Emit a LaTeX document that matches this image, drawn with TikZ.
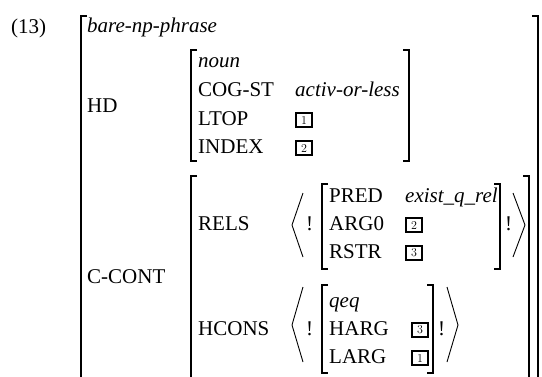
\documentclass[tikz,border=0pt]{standalone}
\usepackage{fontspec}
\setmainfont{Liberation Serif}
\begin{document}
\begin{tikzpicture}[x=1pt,y=-1pt,
  lbl/.style={anchor=base west, inner sep=0pt, font=\fontsize{21}{24}\selectfont},
  typ/.style={anchor=base west, inner sep=0pt, font=\fontsize{21}{24}\selectfont\itshape},
  tag/.style={draw, line width=1.9pt, anchor=south west, minimum width=16pt,
    minimum height=14pt, inner sep=0pt, font=\fontfamily{lmr}\fontsize{12}{14}\selectfont},
  brk/.style={line width=1.3pt},
  ang/.style={line width=0.9pt}]
\useasboundingbox (0,0) rectangle (542,376);

% example number
\node[lbl] (num) at (11,33) {(13)};

% outer matrix
\draw[brk] (87,16) -- (81,16) -- (81,378);
\draw[brk] (532,16) -- (538,16) -- (538,378);
\node[typ] (type) at (87,32) {bare-np-phrase};

% HD feature
\node[lbl] (hd) at (87,112) {HD};
\draw[brk] (197,50) -- (191,50) -- (191,161) -- (197,161);
\draw[brk] (403,50) -- (409,50) -- (409,161) -- (403,161);
\node[typ] (noun) at (198,67) {noun};
\node[lbl] (cogst) at (198,96) {COG-ST};
\node[typ] (activ) at (295,96) {activ-or-less};
\node[lbl] (ltop) at (198,125) {LTOP};
\node[tag] (t1a) at (295,128) {1};
\node[lbl] (index) at (198,153) {INDEX};
\node[tag] (t2a) at (295,156) {2};

% C-CONT feature
\node[lbl] (ccont) at (87,283) {C-CONT};
\draw[brk] (197,176) -- (191,176) -- (191,378);
\draw[brk] (523,176) -- (529,176) -- (529,378);

% RELS list
\node[lbl] (rels) at (198,230) {RELS};
\draw[ang] (303,193) -- (292,225) -- (303,257);
\node[lbl] (bl1) at (306,230) {!};
\draw[brk] (328,184) -- (322,184) -- (322,269) -- (328,269);
\draw[brk] (494,184) -- (500,184) -- (500,269) -- (494,269);
\node[lbl] (pred) at (329,202) {PRED};
\node[typ] (rel) at (405,202) {exist\_q\_rel};
\node[lbl] (arg0) at (329,230) {ARG0};
\node[tag] (t2b) at (405,233) {2};
\node[lbl] (rstr) at (329,258) {RSTR};
\node[tag] (t3a) at (405,261) {3};
\node[lbl] (br1) at (505,230) {!};
\draw[ang] (513,193) -- (525,225) -- (513,257);

% HCONS list
\node[lbl] (hcons) at (198,335) {HCONS};
\draw[ang] (303,287) -- (292,325) -- (303,362);
\node[lbl] (bl2) at (306,335) {!};
\draw[brk] (328,285) -- (322,285) -- (322,373) -- (328,373);
\draw[brk] (427,285) -- (433,285) -- (433,373) -- (427,373);
\node[typ] (qeq) at (329,307) {qeq};
\node[lbl] (harg) at (329,335) {HARG};
\node[tag] (t3b) at (411,338) {3};
\node[lbl] (larg) at (329,363) {LARG};
\node[tag] (t1b) at (411,366) {1};
\node[lbl] (br2) at (438,335) {!};
\draw[ang] (447,287) -- (458,325) -- (447,362);
\end{tikzpicture}
\end{document}
